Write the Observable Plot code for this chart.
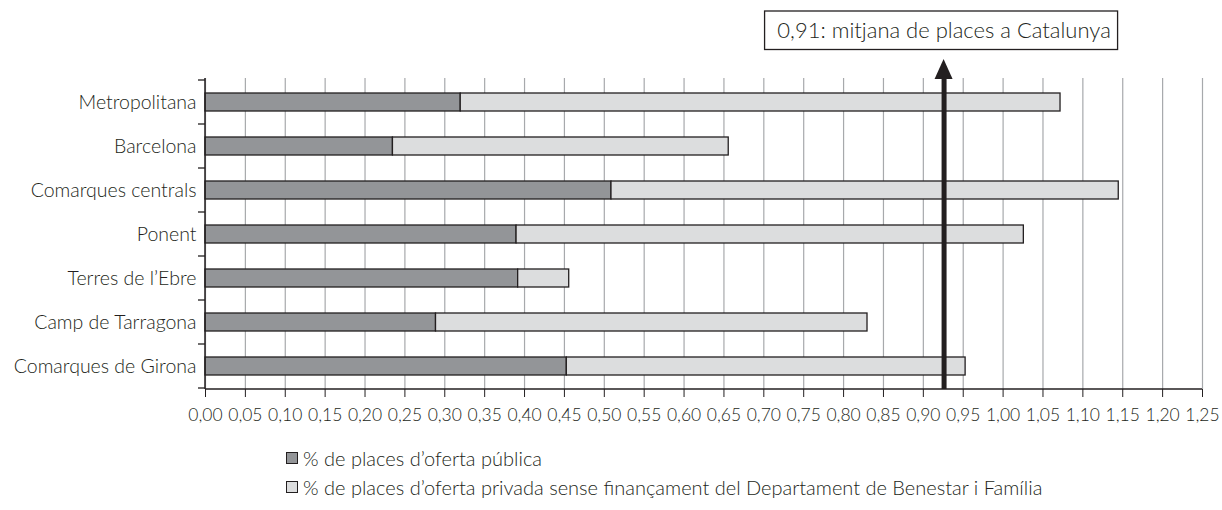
<!DOCTYPE html>
<html><head><meta charset="utf-8">
<script src="https://cdn.jsdelivr.net/npm/d3@7"></script>
<script src="https://cdn.jsdelivr.net/npm/@observablehq/plot@0.6"></script>
<style>
body{margin:0;background:#fff;font-family:Lato, sans-serif;color:#231f20}
#chart{position:relative;width:1222px;height:510px}
#chart svg{display:block}
.legend{position:absolute;left:286px;top:444px;font-size:20px;font-weight:300;font-family:Lato, sans-serif;color:#231f20}
.legend .row{display:flex;align-items:center;height:28.5px;white-space:nowrap}
.sw{width:10px;height:10px;border:1px solid #231f20;margin-right:5px;flex:none}
</style></head><body>
<div id="chart"></div>
<script>
const categories = ["Metropolitana","Barcelona","Comarques centrals","Ponent","Terres de l’Ebre","Camp de Tarragona","Comarques de Girona"];
const publicShare  = [0.320, 0.235, 0.509, 0.390, 0.392, 0.289, 0.453];
const privateShare = [0.752, 0.421, 0.636, 0.636, 0.064, 0.541, 0.500];
const seriesNames = ["% de places d’oferta pública", "% de places d’oferta privada sense finançament del Departament de Benestar i Família"];
const seriesColors = ["#939598", "#dcddde"];
const xTicks = [0,0.05,0.10,0.15,0.20,0.25,0.30,0.35,0.40,0.45,0.50,0.55,0.60,0.65,0.70,0.75,0.80,0.85,0.90,0.95,1.00,1.05,1.10,1.15,1.20,1.25];
const avgArrowX = 0.926;
const avgLabel = "0,91: mitjana de places a Catalunya";

const rows = categories.flatMap((c, i) => [
  {cat: c, series: seriesNames[0], value: publicShare[i]},
  {cat: c, series: seriesNames[1], value: privateShare[i]}
]);

const ink = "#231f20";

function decorations(index, scales, values, dims) {
  const {x, y} = scales;
  const {width, height, marginTop, marginRight, marginBottom, marginLeft} = dims;
  const g = d3.create("svg:g");
  const step = y.step(), bw = y.bandwidth(), off = (step - bw) / 2;
  const bounds = categories.map(c => y(c) - off);
  bounds.push(y(categories[categories.length - 1]) + bw + off);
  for (const b of bounds) {
    g.append("line").attr("x1", marginLeft - 7).attr("x2", marginLeft)
      .attr("y1", b).attr("y2", b).attr("stroke", ink).attr("stroke-width", 1.3);
  }
  const bottom = height - marginBottom;
  g.append("line").attr("x1", marginLeft).attr("x2", width - marginRight)
    .attr("y1", bottom).attr("y2", bottom).attr("stroke", ink).attr("stroke-width", 1.5);
  g.append("line").attr("x1", marginLeft).attr("x2", marginLeft)
    .attr("y1", marginTop).attr("y2", bottom).attr("stroke", ink).attr("stroke-width", 1.5);
  const xa = x(avgArrowX);
  g.append("path")
    .attr("d", `M${xa},${marginTop - 19}L${xa + 9},${marginTop + 1}L${xa - 9},${marginTop + 1}Z`)
    .attr("fill", ink);
  g.append("rect").attr("x", xa - 179).attr("y", 11).attr("width", 353).attr("height", 38.5)
    .attr("fill", "#fff").attr("stroke", ink).attr("stroke-width", 1.3);
  return g.node();
}

const chart = Plot.plot({
  width: 1222,
  height: 430,
  marginTop: 78,
  marginBottom: 41,
  marginLeft: 205,
  marginRight: 20,
  style: {fontFamily: "Lato, sans-serif", color: ink, background: "#fff", fontWeight: 300},
  x: {domain: [0, 1.25], label: null},
  y: {domain: categories, paddingInner: 0.6, paddingOuter: 0.3, label: null},
  color: {domain: seriesNames, range: seriesColors},
  marks: [
    Plot.gridX(xTicks, {stroke: "#a7a9ac", strokeOpacity: 1, strokeWidth: 1.2}),
    Plot.barX(rows, {x: "value", y: "cat", fill: "series", stroke: ink, strokeWidth: 1.3}),
    Plot.ruleX([avgArrowX], {stroke: ink, strokeWidth: 5}),
    decorations,
    Plot.text([avgLabel], {x: () => avgArrowX, text: d => d, frameAnchor: "top", lineAnchor: "middle", dy: -48, fontSize: 22, fill: ink}),
    Plot.axisY({tickSize: 0, tickPadding: 9, fontSize: 19.5, label: null}),
    Plot.axisX(xTicks, {tickSize: 8, tickPadding: 11, fontSize: 17.5, label: null, tickFormat: d => d.toFixed(2).replace(".", ",")})
  ]
});
const root = document.getElementById("chart");
root.appendChild(chart);
const legend = document.createElement("div");
legend.className = "legend";
seriesNames.forEach((name, i) => {
  const row = document.createElement("div");
  row.className = "row";
  const sw = document.createElement("span");
  sw.className = "sw";
  sw.style.background = seriesColors[i];
  row.appendChild(sw);
  row.appendChild(document.createTextNode(name));
  legend.appendChild(row);
});
root.appendChild(legend);
</script>
</body></html>
